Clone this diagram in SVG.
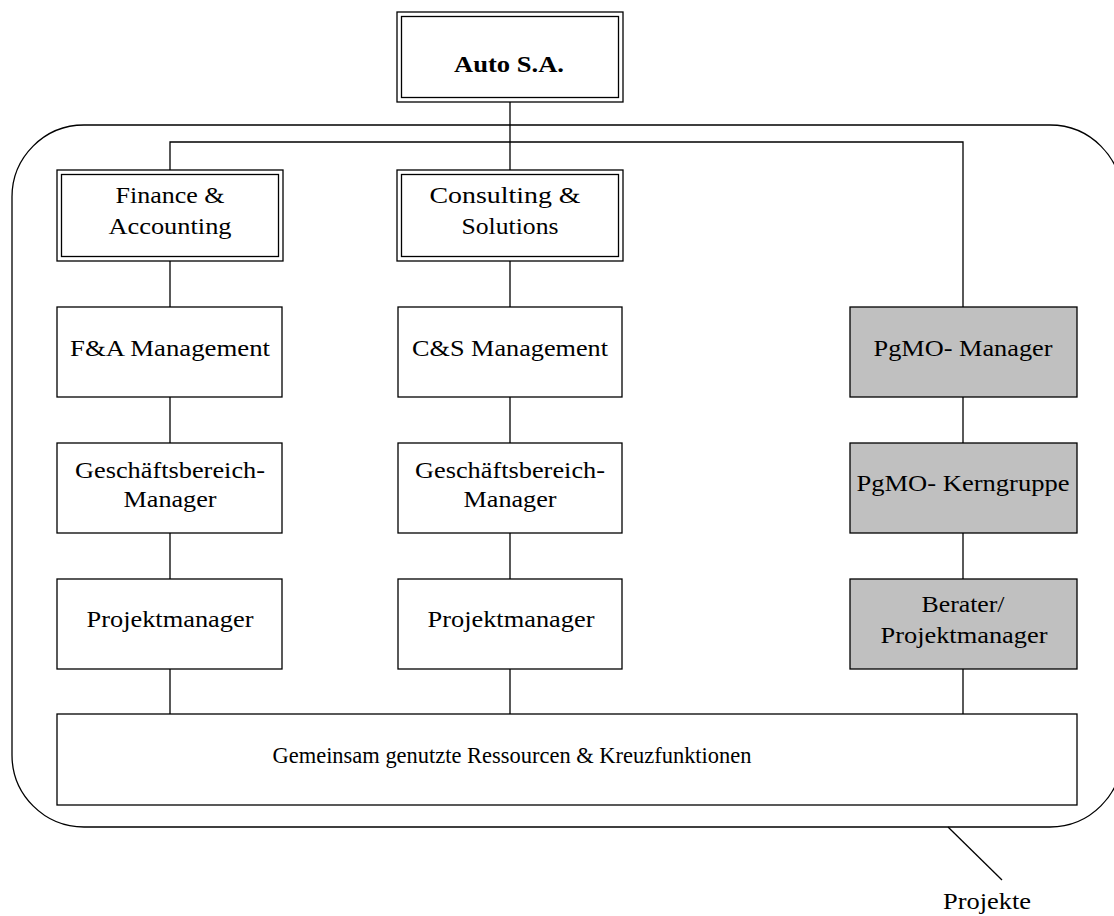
<svg xmlns="http://www.w3.org/2000/svg" width="1114" height="916" viewBox="0 0 1114 916">
  <style>
    .box { fill: #ffffff; stroke: #000000; stroke-width: 1.3; }
    .gray { fill: #c0c0c0; stroke: #000000; stroke-width: 1.3; }
    .line { fill: none; stroke: #000000; stroke-width: 1.3; }
    .lbl { font-family: "Liberation Serif", "Times New Roman", serif; font-size: 24px; fill: #000000; text-anchor: middle; }
    .bold { font-weight: bold; }
  </style>

  <!-- project frame -->
  <g id="projekte">
    <rect x="12" y="125" width="1110" height="702" rx="72" ry="72" class="line"/>
    <line x1="948" y1="827" x2="1002" y2="880" class="line"/>
    <text x="987" y="909" class="lbl" textLength="88" lengthAdjust="spacingAndGlyphs">Projekte</text>
  </g>

  <!-- connectors -->
  <g id="connectors">
    <line x1="510" y1="102" x2="510" y2="170" class="line"/>
    <polyline points="170,170 170,142 963,142 963,307" class="line"/>
    <line x1="170" y1="261" x2="170" y2="307" class="line"/>
    <line x1="170" y1="397" x2="170" y2="443" class="line"/>
    <line x1="170" y1="533" x2="170" y2="579" class="line"/>
    <line x1="170" y1="669" x2="170" y2="714" class="line"/>
    <line x1="510" y1="261" x2="510" y2="307" class="line"/>
    <line x1="510" y1="397" x2="510" y2="443" class="line"/>
    <line x1="510" y1="533" x2="510" y2="579" class="line"/>
    <line x1="510" y1="669" x2="510" y2="714" class="line"/>
    <line x1="963" y1="397" x2="963" y2="443" class="line"/>
    <line x1="963" y1="533" x2="963" y2="579" class="line"/>
    <line x1="963" y1="669" x2="963" y2="714" class="line"/>
  </g>

  <g id="auto-sa">
    <rect x="397" y="12" width="226" height="90" class="box"/>
    <rect x="401.5" y="16.5" width="217" height="81" class="box"/>
    <text x="509" y="72" class="lbl bold" textLength="110" lengthAdjust="spacingAndGlyphs">Auto S.A.</text>
  </g>

  <g id="finance-accounting">
    <rect x="57" y="170" width="226" height="91" class="box"/>
    <rect x="61.5" y="174.5" width="217" height="82" class="box"/>
    <text x="170" y="203" class="lbl" textLength="109" lengthAdjust="spacingAndGlyphs">Finance &amp;</text>
    <text x="170" y="234" class="lbl" textLength="123" lengthAdjust="spacingAndGlyphs">Accounting</text>
  </g>

  <g id="consulting-solutions">
    <rect x="397" y="170" width="226" height="91" class="box"/>
    <rect x="401.5" y="174.5" width="217" height="82" class="box"/>
    <text x="505" y="203" class="lbl" textLength="151" lengthAdjust="spacingAndGlyphs">Consulting &amp;</text>
    <text x="510" y="234" class="lbl" textLength="97" lengthAdjust="spacingAndGlyphs">Solutions</text>
  </g>

  <g id="fa-management">
    <rect x="57" y="307" width="225" height="90" class="box"/>
    <text x="170" y="356" class="lbl" textLength="200" lengthAdjust="spacingAndGlyphs">F&amp;A Management</text>
  </g>

  <g id="cs-management">
    <rect x="398" y="307" width="224" height="90" class="box"/>
    <text x="510" y="356" class="lbl" textLength="196" lengthAdjust="spacingAndGlyphs">C&amp;S Management</text>
  </g>

  <g id="pgmo-manager">
    <rect x="850" y="307" width="227" height="90" class="gray"/>
    <text x="963" y="356" class="lbl" textLength="179" lengthAdjust="spacingAndGlyphs">PgMO- Manager</text>
  </g>

  <g id="fa-gb-manager">
    <rect x="57" y="443" width="225" height="90" class="box"/>
    <text x="170" y="478" class="lbl" textLength="190" lengthAdjust="spacingAndGlyphs">Geschäftsbereich-</text>
    <text x="170" y="507" class="lbl" textLength="93" lengthAdjust="spacingAndGlyphs">Manager</text>
  </g>

  <g id="cs-gb-manager">
    <rect x="398" y="443" width="224" height="90" class="box"/>
    <text x="510" y="478" class="lbl" textLength="190" lengthAdjust="spacingAndGlyphs">Geschäftsbereich-</text>
    <text x="510" y="507" class="lbl" textLength="93" lengthAdjust="spacingAndGlyphs">Manager</text>
  </g>

  <g id="pgmo-kerngruppe">
    <rect x="850" y="443" width="227" height="90" class="gray"/>
    <text x="963" y="491" class="lbl" textLength="213" lengthAdjust="spacingAndGlyphs">PgMO- Kerngruppe</text>
  </g>

  <g id="fa-projektmanager">
    <rect x="57" y="579" width="225" height="90" class="box"/>
    <text x="170" y="627" class="lbl" textLength="167" lengthAdjust="spacingAndGlyphs">Projektmanager</text>
  </g>

  <g id="cs-projektmanager">
    <rect x="398" y="579" width="224" height="90" class="box"/>
    <text x="511" y="627" class="lbl" textLength="167" lengthAdjust="spacingAndGlyphs">Projektmanager</text>
  </g>

  <g id="berater-projektmanager">
    <rect x="850" y="579" width="227" height="90" class="gray"/>
    <text x="963" y="612" class="lbl" textLength="83" lengthAdjust="spacingAndGlyphs">Berater/</text>
    <text x="964" y="643" class="lbl" textLength="167" lengthAdjust="spacingAndGlyphs">Projektmanager</text>
  </g>

  <g id="ressourcen">
    <rect x="57" y="714" width="1020" height="91" class="box"/>
    <text x="512" y="763" class="lbl" textLength="479" lengthAdjust="spacingAndGlyphs">Gemeinsam genutzte Ressourcen &amp; Kreuzfunktionen</text>
  </g>
</svg>
